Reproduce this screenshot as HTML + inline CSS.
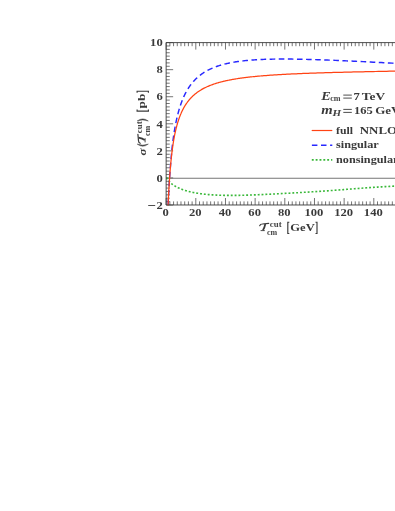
<!DOCTYPE html>
<html><head><meta charset="utf-8"><title>plot</title>
<style>html,body{margin:0;padding:0;background:#fff;}body{width:395px;height:511px;position:relative;overflow:hidden;font-family:"Liberation Serif",serif;}</style>
</head><body>
<svg width="395" height="511" viewBox="0 0 395 511" style="position:absolute;left:0;top:0;will-change:transform">
<rect x="0" y="0" width="395" height="511" fill="#fff"/>
<defs><clipPath id="c"><rect x="166.15" y="42.6" width="233.85" height="162.896"/></clipPath></defs>
<path d="M166.15,205.00V198.00M166.15,42.60V49.60M169.86,205.00V201.40M169.86,42.60V46.20M173.57,205.00V201.40M173.57,42.60V46.20M177.27,205.00V201.40M177.27,42.60V46.20M180.98,205.00V201.40M180.98,42.60V46.20M184.69,205.00V201.40M184.69,42.60V46.20M188.40,205.00V201.40M188.40,42.60V46.20M192.11,205.00V201.40M192.11,42.60V46.20M195.81,205.00V198.00M195.81,42.60V49.60M199.52,205.00V201.40M199.52,42.60V46.20M203.23,205.00V201.40M203.23,42.60V46.20M206.94,205.00V201.40M206.94,42.60V46.20M210.65,205.00V201.40M210.65,42.60V46.20M214.35,205.00V201.40M214.35,42.60V46.20M218.06,205.00V201.40M218.06,42.60V46.20M221.77,205.00V201.40M221.77,42.60V46.20M225.48,205.00V198.00M225.48,42.60V49.60M229.19,205.00V201.40M229.19,42.60V46.20M232.89,205.00V201.40M232.89,42.60V46.20M236.60,205.00V201.40M236.60,42.60V46.20M240.31,205.00V201.40M240.31,42.60V46.20M244.02,205.00V201.40M244.02,42.60V46.20M247.73,205.00V201.40M247.73,42.60V46.20M251.43,205.00V201.40M251.43,42.60V46.20M255.14,205.00V198.00M255.14,42.60V49.60M258.85,205.00V201.40M258.85,42.60V46.20M262.56,205.00V201.40M262.56,42.60V46.20M266.27,205.00V201.40M266.27,42.60V46.20M269.97,205.00V201.40M269.97,42.60V46.20M273.68,205.00V201.40M273.68,42.60V46.20M277.39,205.00V201.40M277.39,42.60V46.20M281.10,205.00V201.40M281.10,42.60V46.20M284.81,205.00V198.00M284.81,42.60V49.60M288.51,205.00V201.40M288.51,42.60V46.20M292.22,205.00V201.40M292.22,42.60V46.20M295.93,205.00V201.40M295.93,42.60V46.20M299.64,205.00V201.40M299.64,42.60V46.20M303.35,205.00V201.40M303.35,42.60V46.20M307.05,205.00V201.40M307.05,42.60V46.20M310.76,205.00V201.40M310.76,42.60V46.20M314.47,205.00V198.00M314.47,42.60V49.60M318.18,205.00V201.40M318.18,42.60V46.20M321.89,205.00V201.40M321.89,42.60V46.20M325.59,205.00V201.40M325.59,42.60V46.20M329.30,205.00V201.40M329.30,42.60V46.20M333.01,205.00V201.40M333.01,42.60V46.20M336.72,205.00V201.40M336.72,42.60V46.20M340.43,205.00V201.40M340.43,42.60V46.20M344.13,205.00V198.00M344.13,42.60V49.60M347.84,205.00V201.40M347.84,42.60V46.20M351.55,205.00V201.40M351.55,42.60V46.20M355.26,205.00V201.40M355.26,42.60V46.20M358.97,205.00V201.40M358.97,42.60V46.20M362.67,205.00V201.40M362.67,42.60V46.20M366.38,205.00V201.40M366.38,42.60V46.20M370.09,205.00V201.40M370.09,42.60V46.20M373.80,205.00V198.00M373.80,42.60V49.60M377.51,205.00V201.40M377.51,42.60V46.20M381.21,205.00V201.40M381.21,42.60V46.20M384.92,205.00V201.40M384.92,42.60V46.20M388.63,205.00V201.40M388.63,42.60V46.20M392.34,205.00V201.40M392.34,42.60V46.20M396.05,205.00V201.40M396.05,42.60V46.20M166.15,205.00H173.15M166.15,201.61H169.75M166.15,198.23H169.75M166.15,194.85H169.75M166.15,191.46H169.75M166.15,188.08H169.75M166.15,184.70H169.75M166.15,181.31H169.75M166.15,177.93H173.15M166.15,174.55H169.75M166.15,171.16H169.75M166.15,167.78H169.75M166.15,164.40H169.75M166.15,161.01H169.75M166.15,157.63H169.75M166.15,154.25H169.75M166.15,150.86H173.15M166.15,147.48H169.75M166.15,144.10H169.75M166.15,140.71H169.75M166.15,137.33H169.75M166.15,133.95H169.75M166.15,130.56H169.75M166.15,127.18H169.75M166.15,123.80H173.15M166.15,120.41H169.75M166.15,117.03H169.75M166.15,113.65H169.75M166.15,110.26H169.75M166.15,106.88H169.75M166.15,103.50H169.75M166.15,100.12H169.75M166.15,96.73H173.15M166.15,93.35H169.75M166.15,89.97H169.75M166.15,86.58H169.75M166.15,83.20H169.75M166.15,79.82H169.75M166.15,76.43H169.75M166.15,73.05H169.75M166.15,69.67H173.15M166.15,66.28H169.75M166.15,62.90H169.75M166.15,59.52H169.75M166.15,56.13H169.75M166.15,52.75H169.75M166.15,49.37H169.75M166.15,45.98H169.75M166.15,42.60H173.15" stroke="#3a3a3a" stroke-width="0.7" fill="none"/>
<path d="M166.15,178.25H397" stroke="#6e6e6e" stroke-width="0.95" fill="none"/>
<g clip-path="url(#c)" fill="none">
<path d="M166.50,177.80 L166.51,177.81 L166.52,177.81 L166.52,177.81 L166.52,177.81 L166.52,177.81 L166.52,177.81 L166.52,177.81 L166.52,177.81 L166.52,177.81 L166.52,177.81 L166.52,177.82 L166.52,177.82 L166.52,177.82 L166.52,177.82 L166.52,177.82 L166.52,177.82 L166.52,177.82 L166.52,177.82 L166.52,177.82 L166.52,177.82 L166.52,177.82 L166.52,177.82 L166.52,177.82 L166.52,177.82 L166.52,177.82 L166.52,177.83 L166.52,177.83 L166.53,177.83 L166.53,177.83 L166.53,177.83 L166.53,177.83 L166.53,177.83 L166.53,177.83 L166.53,177.83 L166.53,177.83 L166.53,177.83 L166.53,177.84 L166.53,177.84 L166.53,177.84 L166.53,177.84 L166.53,177.84 L166.53,177.84 L166.53,177.84 L166.53,177.84 L166.53,177.84 L166.54,177.85 L166.54,177.85 L166.54,177.85 L166.54,177.85 L166.54,177.85 L166.54,177.85 L166.54,177.85 L166.54,177.86 L166.54,177.86 L166.54,177.86 L166.54,177.86 L166.54,177.86 L166.54,177.86 L166.55,177.86 L166.55,177.87 L166.55,177.87 L166.55,177.87 L166.55,177.87 L166.55,177.87 L166.55,177.88 L166.55,177.88 L166.55,177.88 L166.55,177.88 L166.56,177.88 L166.56,177.89 L166.56,177.89 L166.56,177.89 L166.56,177.89 L166.56,177.89 L166.56,177.90 L166.56,177.90 L166.56,177.90 L166.57,177.90 L166.57,177.91 L166.57,177.91 L166.57,177.91 L166.57,177.91 L166.57,177.92 L166.57,177.92 L166.58,177.92 L166.58,177.93 L166.58,177.93 L166.58,177.93 L166.58,177.93 L166.58,177.94 L166.58,177.94 L166.59,177.94 L166.59,177.95 L166.59,177.95 L166.59,177.95 L166.59,177.96 L166.60,177.96 L166.60,177.96 L166.60,177.97 L166.60,177.97 L166.60,177.98 L166.61,177.98 L166.61,177.98 L166.61,177.99 L166.61,177.99 L166.61,178.00 L166.62,178.00 L166.62,178.00 L166.62,178.01 L166.62,178.01 L166.63,178.02 L166.63,178.02 L166.63,178.03 L166.63,178.03 L166.64,178.04 L166.64,178.04 L166.64,178.05 L166.64,178.05 L166.65,178.06 L166.65,178.06 L166.65,178.07 L166.65,178.08 L166.66,178.08 L166.66,178.09 L166.66,178.09 L166.67,178.10 L166.67,178.11 L166.67,178.11 L166.68,178.12 L166.68,178.12 L166.68,178.13 L166.69,178.14 L166.69,178.15 L166.70,178.15 L166.70,178.16 L166.70,178.17 L166.71,178.17 L166.71,178.18 L166.72,178.19 L166.72,178.20 L166.72,178.21 L166.73,178.21 L166.73,178.22 L166.74,178.23 L166.74,178.24 L166.75,178.25 L166.75,178.26 L166.76,178.27 L166.76,178.27 L166.77,178.28 L166.77,178.29 L166.78,178.30 L166.78,178.31 L166.79,178.32 L166.79,178.33 L166.80,178.34 L166.81,178.35 L166.81,178.36 L166.82,178.38 L166.82,178.39 L166.83,178.40 L166.84,178.41 L166.84,178.42 L166.85,178.43 L166.86,178.44 L166.86,178.46 L166.87,178.47 L166.88,178.48 L166.89,178.49 L166.89,178.51 L166.90,178.52 L166.91,178.53 L166.92,178.55 L166.92,178.56 L166.93,178.58 L166.94,178.59 L166.95,178.61 L166.96,178.62 L166.97,178.64 L166.98,178.65 L166.99,178.67 L167.00,178.68 L167.01,178.70 L167.02,178.71 L167.03,178.73 L167.04,178.75 L167.05,178.77 L167.06,178.78 L167.07,178.80 L167.08,178.82 L167.09,178.84 L167.10,178.86 L167.11,178.87 L167.13,178.89 L167.14,178.91 L167.15,178.93 L167.16,178.95 L167.18,178.97 L167.19,178.99 L167.20,179.02 L167.22,179.04 L167.23,179.06 L167.25,179.08 L167.26,179.10 L167.27,179.13 L167.29,179.15 L167.31,179.17 L167.32,179.20 L167.34,179.22 L167.35,179.24 L167.37,179.27 L167.39,179.29 L167.41,179.32 L167.42,179.35 L167.44,179.37 L167.46,179.40 L167.48,179.43 L167.50,179.45 L167.52,179.48 L167.54,179.51 L167.56,179.54 L167.58,179.57 L167.60,179.60 L167.62,179.63 L167.64,179.66 L167.66,179.69 L167.69,179.72 L167.71,179.75 L167.73,179.79 L167.76,179.82 L167.78,179.85 L167.81,179.89 L167.83,179.92 L167.86,179.95 L167.89,179.99 L167.91,180.02 L167.94,180.06 L167.97,180.10 L168.00,180.13 L168.03,180.17 L168.06,180.21 L168.09,180.25 L168.12,180.29 L168.15,180.33 L168.18,180.37 L168.22,180.41 L168.25,180.45 L168.28,180.49 L168.32,180.53 L168.36,180.58 L168.39,180.62 L168.43,180.67 L168.47,180.71 L168.50,180.76 L168.54,180.80 L168.58,180.85 L168.63,180.89 L168.67,180.94 L168.71,180.99 L168.75,181.04 L168.80,181.09 L168.84,181.14 L168.89,181.19 L168.93,181.24 L168.98,181.29 L169.03,181.35 L169.08,181.40 L169.13,181.45 L169.18,181.51 L169.23,181.56 L169.29,181.62 L169.34,181.68 L169.40,181.73 L169.46,181.79 L169.51,181.85 L169.57,181.91 L169.63,181.97 L169.69,182.03 L169.76,182.09 L169.82,182.15 L169.89,182.22 L169.95,182.28 L170.02,182.34 L170.09,182.41 L170.16,182.47 L170.23,182.54 L170.30,182.61 L170.38,182.68 L170.45,182.74 L170.53,182.81 L170.61,182.88 L170.69,182.95 L170.77,183.03 L170.86,183.10 L170.94,183.17 L171.03,183.25 L171.12,183.32 L171.21,183.40 L171.30,183.47 L171.39,183.55 L171.49,183.63 L171.59,183.70 L171.69,183.78 L171.79,183.86 L171.89,183.94 L172.00,184.02 L172.11,184.11 L172.22,184.19 L172.33,184.27 L172.44,184.36 L172.56,184.44 L172.68,184.53 L172.80,184.62 L172.92,184.70 L173.05,184.79 L173.18,184.88 L173.31,184.97 L173.44,185.06 L173.58,185.15 L173.71,185.24 L173.86,185.33 L174.00,185.43 L174.15,185.52 L174.30,185.62 L174.45,185.71 L174.60,185.81 L174.76,185.90 L174.92,186.00 L175.09,186.10 L175.26,186.20 L175.43,186.30 L175.60,186.40 L175.78,186.50 L175.96,186.60 L176.15,186.70 L176.34,186.81 L176.53,186.91 L176.73,187.01 L176.93,187.12 L177.13,187.22 L177.34,187.33 L177.55,187.43 L177.77,187.54 L177.99,187.65 L178.22,187.75 L178.45,187.86 L178.68,187.97 L178.92,188.08 L179.16,188.19 L179.41,188.30 L179.66,188.41 L179.92,188.52 L180.18,188.63 L180.45,188.74 L180.72,188.85 L181.00,188.97 L181.29,189.08 L181.58,189.19 L181.87,189.30 L182.17,189.42 L182.48,189.53 L182.79,189.64 L183.11,189.76 L183.44,189.87 L183.77,189.98 L184.11,190.10 L184.45,190.21 L184.80,190.32 L185.16,190.44 L185.53,190.55 L185.90,190.66 L186.28,190.78 L186.67,190.89 L187.06,191.00 L187.47,191.11 L187.88,191.22 L188.30,191.34 L188.72,191.45 L189.16,191.56 L189.60,191.67 L190.06,191.78 L190.52,191.89 L190.99,192.00 L191.47,192.10 L191.96,192.21 L192.45,192.32 L192.96,192.42 L193.48,192.53 L194.01,192.63 L194.55,192.73 L195.10,192.84 L195.66,192.94 L196.23,193.04 L196.81,193.14 L197.41,193.23 L198.01,193.33 L198.63,193.43 L199.26,193.52 L199.90,193.61 L200.55,193.70 L201.22,193.79 L201.90,193.88 L202.59,193.96 L203.30,194.05 L204.02,194.13 L204.76,194.21 L205.51,194.29 L206.27,194.36 L207.05,194.44 L207.84,194.51 L208.65,194.58 L209.48,194.65 L210.32,194.71 L211.18,194.77 L212.06,194.83 L212.95,194.89 L213.86,194.95 L214.79,195.00 L215.73,195.05 L216.70,195.09 L217.68,195.14 L218.68,195.18 L219.70,195.22 L220.75,195.25 L221.81,195.28 L222.89,195.31 L224.00,195.33 L225.12,195.35 L226.27,195.37 L227.44,195.38 L228.64,195.39 L229.85,195.40 L231.09,195.40 L232.36,195.40 L233.65,195.40 L234.97,195.39 L236.31,195.37 L237.67,195.36 L239.07,195.33 L240.49,195.31 L241.94,195.28 L243.42,195.24 L244.92,195.20 L246.46,195.16 L248.03,195.11 L249.62,195.06 L251.25,195.01 L252.91,194.94 L254.60,194.88 L256.33,194.81 L258.09,194.74 L259.88,194.66 L261.71,194.58 L263.58,194.49 L265.48,194.40 L267.42,194.31 L269.40,194.21 L271.41,194.11 L273.47,194.01 L275.56,193.90 L277.70,193.79 L279.88,193.67 L282.10,193.55 L284.36,193.43 L286.67,193.31 L289.02,193.18 L291.42,193.05 L293.87,192.91 L296.37,192.77 L298.91,192.63 L301.50,192.48 L304.15,192.32 L306.85,192.16 L309.59,192.00 L312.40,191.82 L315.26,191.64 L318.17,191.45 L321.14,191.25 L324.17,191.05 L327.26,190.83 L330.41,190.60 L333.62,190.36 L336.89,190.11 L340.23,189.85 L343.63,189.59 L347.10,189.32 L350.64,189.04 L354.25,188.76 L357.93,188.48 L361.67,188.19 L365.50,187.91 L369.40,187.64 L373.37,187.36 L377.42,187.10 L381.56,186.84 L385.77,186.58 L390.06,186.34 L394.44,186.10 L398.91,185.87 L403.46,185.64" stroke="#3ab83a" stroke-width="1.6" stroke-dasharray="1.9 1.95"/>
<path d="M167.29,209.94 L167.30,210.21 L167.31,210.47 L167.31,210.72 L167.32,210.96 L167.32,211.18 L167.33,211.40 L167.34,211.61 L167.34,211.81 L167.35,212.00 L167.35,212.18 L167.36,212.35 L167.37,212.51 L167.37,212.66 L167.38,212.80 L167.39,212.94 L167.39,213.06 L167.40,213.17 L167.41,213.28 L167.41,213.38 L167.42,213.46 L167.43,213.54 L167.44,213.61 L167.44,213.68 L167.45,213.73 L167.46,213.77 L167.47,213.81 L167.47,213.84 L167.48,213.86 L167.49,213.87 L167.50,213.88 L167.51,213.87 L167.51,213.86 L167.52,213.84 L167.53,213.81 L167.54,213.78 L167.55,213.73 L167.56,213.68 L167.57,213.62 L167.58,213.56 L167.58,213.49 L167.59,213.41 L167.60,213.32 L167.61,213.23 L167.62,213.12 L167.63,213.02 L167.64,212.90 L167.65,212.78 L167.66,212.65 L167.67,212.51 L167.68,212.37 L167.69,212.22 L167.70,212.07 L167.72,211.91 L167.73,211.74 L167.74,211.56 L167.75,211.38 L167.76,211.20 L167.77,211.00 L167.78,210.80 L167.80,210.60 L167.81,210.39 L167.82,210.17 L167.83,209.95 L167.84,209.72 L167.86,209.49 L167.87,209.25 L167.88,209.00 L167.90,208.75 L167.91,208.50 L167.92,208.24 L167.94,207.97 L167.95,207.70 L167.96,207.42 L167.98,207.14 L167.99,206.86 L168.01,206.57 L168.02,206.27 L168.04,205.97 L168.05,205.66 L168.07,205.35 L168.08,205.04 L168.10,204.72 L168.11,204.39 L168.13,204.06 L168.14,203.73 L168.16,203.39 L168.18,203.05 L168.19,202.70 L168.21,202.35 L168.23,202.00 L168.25,201.64 L168.26,201.28 L168.28,200.91 L168.30,200.54 L168.32,200.17 L168.34,199.79 L168.36,199.41 L168.37,199.02 L168.39,198.63 L168.41,198.24 L168.43,197.85 L168.45,197.45 L168.47,197.04 L168.49,196.64 L168.52,196.23 L168.54,195.81 L168.56,195.40 L168.58,194.98 L168.60,194.56 L168.62,194.13 L168.65,193.70 L168.67,193.27 L168.69,192.84 L168.71,192.40 L168.74,191.96 L168.76,191.52 L168.79,191.08 L168.81,190.63 L168.84,190.18 L168.86,189.73 L168.89,189.27 L168.91,188.81 L168.94,188.35 L168.97,187.89 L168.99,187.43 L169.02,186.96 L169.05,186.49 L169.07,186.02 L169.10,185.55 L169.13,185.07 L169.16,184.59 L169.19,184.11 L169.22,183.63 L169.25,183.15 L169.28,182.67 L169.31,182.18 L169.34,181.69 L169.37,181.20 L169.40,180.70 L169.44,180.21 L169.47,179.71 L169.50,179.21 L169.54,178.71 L169.57,178.21 L169.60,177.70 L169.64,177.19 L169.68,176.68 L169.71,176.17 L169.75,175.65 L169.78,175.13 L169.82,174.61 L169.86,174.09 L169.90,173.56 L169.94,173.04 L169.97,172.50 L170.01,171.97 L170.05,171.43 L170.09,170.89 L170.14,170.35 L170.18,169.81 L170.22,169.26 L170.26,168.70 L170.31,168.15 L170.35,167.59 L170.39,167.03 L170.44,166.46 L170.48,165.89 L170.53,165.32 L170.58,164.75 L170.62,164.17 L170.67,163.58 L170.72,163.00 L170.77,162.40 L170.82,161.81 L170.87,161.21 L170.92,160.61 L170.97,160.00 L171.02,159.40 L171.08,158.78 L171.13,158.17 L171.18,157.55 L171.24,156.93 L171.29,156.30 L171.35,155.67 L171.41,155.04 L171.46,154.41 L171.52,153.78 L171.58,153.14 L171.64,152.50 L171.70,151.87 L171.76,151.23 L171.83,150.59 L171.89,149.95 L171.95,149.32 L172.02,148.68 L172.08,148.05 L172.15,147.43 L172.22,146.80 L172.28,146.19 L172.35,145.58 L172.42,144.98 L172.49,144.39 L172.57,143.80 L172.64,143.21 L172.71,142.62 L172.79,142.04 L172.86,141.45 L172.94,140.86 L173.01,140.27 L173.09,139.69 L173.17,139.10 L173.25,138.52 L173.33,137.93 L173.41,137.35 L173.50,136.76 L173.58,136.18 L173.67,135.60 L173.75,135.01 L173.84,134.43 L173.93,133.85 L174.02,133.27 L174.11,132.69 L174.20,132.11 L174.29,131.53 L174.39,130.95 L174.48,130.38 L174.58,129.80 L174.68,129.23 L174.78,128.65 L174.88,128.08 L174.98,127.51 L175.08,126.94 L175.19,126.37 L175.29,125.80 L175.40,125.23 L175.51,124.66 L175.62,124.10 L175.73,123.53 L175.84,122.97 L175.95,122.41 L176.07,121.85 L176.19,121.29 L176.30,120.73 L176.42,120.17 L176.55,119.62 L176.67,119.06 L176.79,118.51 L176.92,117.96 L177.05,117.41 L177.18,116.86 L177.31,116.31 L177.44,115.77 L177.57,115.22 L177.71,114.68 L177.85,114.14 L177.99,113.60 L178.13,113.06 L178.27,112.53 L178.41,111.99 L178.56,111.46 L178.71,110.93 L178.86,110.40 L179.01,109.88 L179.16,109.35 L179.32,108.83 L179.48,108.31 L179.64,107.79 L179.80,107.27 L179.96,106.75 L180.13,106.24 L180.30,105.73 L180.47,105.22 L180.64,104.71 L180.82,104.20 L180.99,103.70 L181.17,103.20 L181.35,102.70 L181.54,102.20 L181.72,101.70 L181.91,101.21 L182.10,100.72 L182.29,100.23 L182.49,99.74 L182.69,99.26 L182.89,98.78 L183.09,98.30 L183.30,97.82 L183.51,97.34 L183.72,96.87 L183.93,96.40 L184.15,95.93 L184.37,95.47 L184.59,95.00 L184.81,94.54 L185.04,94.08 L185.27,93.63 L185.50,93.17 L185.74,92.72 L185.98,92.27 L186.22,91.82 L186.47,91.38 L186.71,90.94 L186.97,90.50 L187.22,90.06 L187.48,89.63 L187.74,89.20 L188.00,88.77 L188.27,88.34 L188.54,87.92 L188.82,87.50 L189.10,87.08 L189.38,86.67 L189.66,86.26 L189.95,85.85 L190.25,85.44 L190.54,85.04 L190.84,84.63 L191.15,84.24 L191.45,83.84 L191.76,83.45 L192.08,83.06 L192.40,82.67 L192.72,82.28 L193.05,81.90 L193.38,81.52 L193.72,81.15 L194.06,80.77 L194.40,80.40 L194.75,80.04 L195.11,79.67 L195.46,79.31 L195.83,78.95 L196.19,78.60 L196.56,78.25 L196.94,77.90 L197.32,77.55 L197.71,77.21 L198.10,76.87 L198.49,76.53 L198.89,76.19 L199.30,75.86 L199.71,75.53 L200.13,75.21 L200.55,74.89 L200.98,74.57 L201.41,74.25 L201.85,73.94 L202.29,73.63 L202.74,73.32 L203.19,73.02 L203.65,72.72 L204.12,72.42 L204.59,72.13 L205.07,71.84 L205.55,71.55 L206.04,71.26 L206.54,70.98 L207.04,70.71 L207.55,70.43 L208.06,70.16 L208.59,69.89 L209.11,69.62 L209.65,69.36 L210.19,69.10 L210.74,68.85 L211.30,68.59 L211.86,68.35 L212.43,68.10 L213.01,67.86 L213.59,67.62 L214.18,67.38 L214.78,67.15 L215.39,66.92 L216.00,66.69 L216.63,66.47 L217.26,66.25 L217.90,66.03 L218.54,65.82 L219.20,65.61 L219.86,65.40 L220.53,65.20 L221.21,65.00 L221.90,64.80 L222.60,64.61 L223.30,64.42 L224.02,64.23 L224.74,64.05 L225.47,63.87 L226.22,63.69 L226.97,63.52 L227.73,63.35 L228.50,63.18 L229.28,63.02 L230.07,62.86 L230.87,62.70 L231.68,62.55 L232.50,62.39 L233.33,62.25 L234.18,62.10 L235.03,61.96 L235.89,61.83 L236.77,61.69 L237.65,61.56 L238.55,61.44 L239.46,61.31 L240.38,61.19 L241.31,61.07 L242.25,60.96 L243.20,60.85 L244.17,60.74 L245.15,60.64 L246.14,60.54 L247.15,60.44 L248.16,60.35 L249.19,60.26 L250.23,60.17 L251.29,60.08 L252.36,60.00 L253.44,59.93 L254.54,59.85 L255.65,59.78 L256.77,59.71 L257.91,59.65 L259.07,59.59 L260.23,59.53 L261.42,59.48 L262.61,59.42 L263.83,59.38 L265.05,59.33 L266.30,59.29 L267.56,59.25 L268.83,59.22 L270.12,59.18 L271.43,59.16 L272.76,59.13 L274.10,59.11 L275.45,59.09 L276.83,59.07 L278.22,59.06 L279.63,59.05 L281.06,59.04 L282.51,59.04 L283.97,59.04 L285.46,59.04 L286.96,59.05 L288.48,59.06 L290.02,59.07 L291.58,59.09 L293.16,59.11 L294.76,59.13 L296.38,59.15 L298.02,59.18 L299.68,59.21 L301.36,59.25 L303.06,59.28 L304.79,59.32 L306.53,59.37 L308.30,59.41 L310.09,59.46 L311.91,59.52 L313.75,59.57 L315.61,59.63 L317.49,59.69 L319.40,59.76 L321.33,59.82 L323.28,59.89 L325.27,59.97 L327.27,60.04 L329.30,60.12 L331.36,60.20 L333.44,60.29 L335.55,60.37 L337.69,60.47 L339.85,60.56 L342.04,60.65 L344.26,60.75 L346.51,60.86 L348.78,60.96 L351.09,61.07 L353.42,61.18 L355.78,61.29 L358.17,61.41 L360.60,61.52 L363.05,61.65 L365.54,61.77 L368.05,61.90 L370.60,62.02 L373.18,62.16 L375.79,62.29 L378.44,62.43 L381.12,62.57 L383.83,62.71 L386.58,62.85 L389.36,63.00 L392.18,63.15 L395.03,63.30 L397.92,63.46 L400.85,63.62 L403.81,63.78" stroke="#2828ff" stroke-width="1.45" stroke-dasharray="5.6 3.5" stroke-dashoffset="-4.2"/>
<path d="M167.29,209.94 L167.30,210.21 L167.31,210.47 L167.31,210.72 L167.32,210.96 L167.32,211.18 L167.33,211.40 L167.34,211.61 L167.34,211.81 L167.35,212.00 L167.35,212.18 L167.36,212.35 L167.37,212.51 L167.37,212.66 L167.38,212.80 L167.39,212.94 L167.39,213.06 L167.40,213.17 L167.41,213.28 L167.41,213.38 L167.42,213.46 L167.43,213.54 L167.44,213.61 L167.44,213.68 L167.45,213.73 L167.46,213.77 L167.47,213.81 L167.47,213.84 L167.48,213.86 L167.49,213.87 L167.50,213.88 L167.51,213.87 L167.51,213.86 L167.52,213.84 L167.53,213.81 L167.54,213.78 L167.55,213.73 L167.56,213.68 L167.57,213.62 L167.58,213.56 L167.58,213.49 L167.59,213.41 L167.60,213.32 L167.61,213.23 L167.62,213.12 L167.63,213.02 L167.64,212.90 L167.65,212.78 L167.66,212.65 L167.67,212.51 L167.68,212.37 L167.69,212.22 L167.70,212.07 L167.72,211.91 L167.73,211.74 L167.74,211.56 L167.75,211.38 L167.76,211.20 L167.77,211.00 L167.78,210.80 L167.80,210.60 L167.81,210.39 L167.82,210.17 L167.83,209.95 L167.84,209.72 L167.86,209.49 L167.87,209.25 L167.88,209.00 L167.90,208.75 L167.91,208.50 L167.92,208.24 L167.94,207.97 L167.95,207.70 L167.96,207.42 L167.98,207.14 L167.99,206.86 L168.01,206.57 L168.02,206.27 L168.04,205.97 L168.05,205.66 L168.07,205.35 L168.08,205.04 L168.10,204.72 L168.11,204.39 L168.13,204.06 L168.14,203.73 L168.16,203.39 L168.18,203.05 L168.19,202.70 L168.21,202.35 L168.23,202.00 L168.25,201.64 L168.26,201.28 L168.28,200.91 L168.30,200.54 L168.32,200.17 L168.34,199.79 L168.36,199.41 L168.37,199.02 L168.39,198.63 L168.41,198.24 L168.43,197.85 L168.45,197.45 L168.47,197.04 L168.49,196.64 L168.52,196.23 L168.54,195.81 L168.56,195.40 L168.58,194.98 L168.60,194.56 L168.62,194.13 L168.65,193.70 L168.67,193.27 L168.69,192.84 L168.71,192.40 L168.74,191.96 L168.76,191.52 L168.79,191.08 L168.81,190.63 L168.84,190.18 L168.86,189.73 L168.89,189.27 L168.91,188.81 L168.94,188.35 L168.97,187.89 L168.99,187.43 L169.02,186.96 L169.05,186.49 L169.07,186.02 L169.10,185.55 L169.13,185.07 L169.16,184.59 L169.19,184.11 L169.22,183.63 L169.25,183.15 L169.28,182.67 L169.31,182.18 L169.34,181.69 L169.37,181.20 L169.40,180.71 L169.44,180.22 L169.47,179.72 L169.50,179.22 L169.54,178.73 L169.57,178.23 L169.60,177.73 L169.64,177.22 L169.68,176.72 L169.71,176.22 L169.75,175.71 L169.78,175.20 L169.82,174.69 L169.86,174.19 L169.90,173.68 L169.94,173.16 L169.97,172.65 L170.01,172.14 L170.05,171.62 L170.09,171.11 L170.14,170.59 L170.18,170.08 L170.22,169.56 L170.26,169.04 L170.31,168.52 L170.35,168.00 L170.39,167.48 L170.44,166.96 L170.48,166.44 L170.53,165.92 L170.58,165.40 L170.62,164.88 L170.67,164.35 L170.72,163.83 L170.77,163.31 L170.82,162.78 L170.87,162.26 L170.92,161.73 L170.97,161.21 L171.02,160.68 L171.08,160.16 L171.13,159.64 L171.18,159.11 L171.24,158.59 L171.29,158.06 L171.35,157.54 L171.41,157.01 L171.46,156.49 L171.52,155.96 L171.58,155.44 L171.64,154.92 L171.70,154.39 L171.76,153.87 L171.83,153.35 L171.89,152.82 L171.95,152.30 L172.02,151.78 L172.08,151.26 L172.15,150.74 L172.22,150.22 L172.28,149.70 L172.35,149.18 L172.42,148.66 L172.49,148.14 L172.57,147.62 L172.64,147.10 L172.71,146.59 L172.79,146.07 L172.86,145.56 L172.94,145.04 L173.01,144.53 L173.09,144.02 L173.17,143.51 L173.25,142.99 L173.33,142.48 L173.41,141.98 L173.50,141.47 L173.58,140.96 L173.67,140.45 L173.75,139.95 L173.84,139.45 L173.93,138.94 L174.02,138.44 L174.11,137.94 L174.20,137.44 L174.29,136.94 L174.39,136.44 L174.48,135.95 L174.58,135.45 L174.68,134.96 L174.78,134.47 L174.88,133.98 L174.98,133.49 L175.08,133.00 L175.19,132.51 L175.29,132.03 L175.40,131.54 L175.51,131.06 L175.62,130.58 L175.73,130.10 L175.84,129.62 L175.95,129.14 L176.07,128.67 L176.19,128.19 L176.30,127.72 L176.42,127.25 L176.55,126.78 L176.67,126.31 L176.79,125.85 L176.92,125.38 L177.05,124.92 L177.18,124.46 L177.31,124.00 L177.44,123.54 L177.57,123.08 L177.71,122.63 L177.85,122.18 L177.99,121.73 L178.13,121.28 L178.27,120.83 L178.41,120.38 L178.56,119.94 L178.71,119.50 L178.86,119.06 L179.01,118.62 L179.16,118.18 L179.32,117.75 L179.48,117.32 L179.64,116.89 L179.80,116.46 L179.96,116.03 L180.13,115.61 L180.30,115.18 L180.47,114.76 L180.64,114.34 L180.82,113.93 L180.99,113.51 L181.17,113.10 L181.35,112.69 L181.54,112.28 L181.72,111.87 L181.91,111.47 L182.10,111.07 L182.29,110.67 L182.49,110.27 L182.69,109.87 L182.89,109.48 L183.09,109.09 L183.30,108.70 L183.51,108.31 L183.72,107.92 L183.93,107.54 L184.15,107.16 L184.37,106.78 L184.59,106.40 L184.81,106.03 L185.04,105.66 L185.27,105.29 L185.50,104.92 L185.74,104.55 L185.98,104.19 L186.22,103.83 L186.47,103.47 L186.71,103.11 L186.97,102.76 L187.22,102.40 L187.48,102.05 L187.74,101.70 L188.00,101.36 L188.27,101.02 L188.54,100.67 L188.82,100.34 L189.10,100.00 L189.38,99.66 L189.66,99.33 L189.95,99.00 L190.25,98.67 L190.54,98.35 L190.84,98.03 L191.15,97.71 L191.45,97.39 L191.76,97.07 L192.08,96.76 L192.40,96.45 L192.72,96.14 L193.05,95.83 L193.38,95.53 L193.72,95.22 L194.06,94.92 L194.40,94.63 L194.75,94.33 L195.11,94.04 L195.46,93.75 L195.83,93.46 L196.19,93.17 L196.56,92.89 L196.94,92.61 L197.32,92.33 L197.71,92.05 L198.10,91.78 L198.49,91.50 L198.89,91.23 L199.30,90.97 L199.71,90.70 L200.13,90.44 L200.55,90.18 L200.98,89.92 L201.41,89.66 L201.85,89.41 L202.29,89.16 L202.74,88.91 L203.19,88.66 L203.65,88.41 L204.12,88.17 L204.59,87.93 L205.07,87.69 L205.55,87.46 L206.04,87.22 L206.54,86.99 L207.04,86.76 L207.55,86.54 L208.06,86.31 L208.59,86.09 L209.11,85.87 L209.65,85.65 L210.19,85.43 L210.74,85.22 L211.30,85.01 L211.86,84.80 L212.43,84.59 L213.01,84.38 L213.59,84.18 L214.18,83.98 L214.78,83.78 L215.39,83.58 L216.00,83.39 L216.63,83.20 L217.26,83.01 L217.90,82.82 L218.54,82.63 L219.20,82.45 L219.86,82.27 L220.53,82.09 L221.21,81.91 L221.90,81.73 L222.60,81.56 L223.30,81.38 L224.02,81.21 L224.74,81.05 L225.47,80.88 L226.22,80.72 L226.97,80.55 L227.73,80.39 L228.50,80.24 L229.28,80.08 L230.07,79.92 L230.87,79.77 L231.68,79.62 L232.50,79.47 L233.33,79.32 L234.18,79.18 L235.03,79.04 L235.89,78.89 L236.77,78.75 L237.65,78.62 L238.55,78.48 L239.46,78.34 L240.38,78.21 L241.31,78.08 L242.25,77.95 L243.20,77.82 L244.17,77.70 L245.15,77.57 L246.14,77.45 L247.15,77.33 L248.16,77.21 L249.19,77.09 L250.23,76.98 L251.29,76.86 L252.36,76.75 L253.44,76.64 L254.54,76.53 L255.65,76.42 L256.77,76.31 L257.91,76.21 L259.07,76.10 L260.23,76.00 L261.42,75.90 L262.61,75.80 L263.83,75.70 L265.05,75.60 L266.30,75.51 L267.56,75.41 L268.83,75.32 L270.12,75.23 L271.43,75.14 L272.76,75.05 L274.10,74.96 L275.45,74.87 L276.83,74.79 L278.22,74.70 L279.63,74.62 L281.06,74.54 L282.51,74.45 L283.97,74.37 L285.46,74.30 L286.96,74.22 L288.48,74.14 L290.02,74.07 L291.58,73.99 L293.16,73.92 L294.76,73.84 L296.38,73.77 L298.02,73.70 L299.68,73.63 L301.36,73.56 L303.06,73.49 L304.79,73.43 L306.53,73.36 L308.30,73.29 L310.09,73.23 L311.91,73.16 L313.75,73.10 L315.61,73.04 L317.49,72.97 L319.40,72.91 L321.33,72.85 L323.28,72.79 L325.27,72.73 L327.27,72.67 L329.30,72.61 L331.36,72.55 L333.44,72.49 L335.55,72.44 L337.69,72.38 L339.85,72.32 L342.04,72.27 L344.26,72.21 L346.51,72.15 L348.78,72.10 L351.09,72.04 L353.42,71.99 L355.78,71.93 L358.17,71.88 L360.60,71.82 L363.05,71.77 L365.54,71.71 L368.05,71.66 L370.60,71.61 L373.18,71.55 L375.79,71.50 L378.44,71.44 L381.12,71.39 L383.83,71.34 L386.58,71.28 L389.36,71.23 L392.18,71.17 L395.03,71.12 L397.92,71.06 L400.85,71.01 L403.81,70.95" stroke="#ff4314" stroke-width="1.25"/>
</g>
<path d="M397,42.6H166.15V204.99599999999998H397" stroke="#3a3a3a" stroke-width="0.9" fill="none"/>
<path d="M311.7,130.5H332.3" stroke="#ff4314" stroke-width="1.2"/>
<path d="M311.9,145.25H332.3" stroke="#2828ff" stroke-width="1.45" stroke-dasharray="5.5 3.6"/>
<path d="M311.8,159.85H332.3" stroke="#3ab83a" stroke-width="1.6" stroke-dasharray="1.9 1.95"/>
<g style="filter:grayscale(1)">
<text x="162.50" y="215.90" font-family="Liberation Serif, serif" font-size="11.2" fill="#3a3a3a" font-weight="bold" textLength="6.30" lengthAdjust="spacingAndGlyphs"  xml:space="preserve">0</text>
<text x="189.01" y="215.90" font-family="Liberation Serif, serif" font-size="11.2" fill="#3a3a3a" font-weight="bold" textLength="12.60" lengthAdjust="spacingAndGlyphs"  xml:space="preserve">20</text>
<text x="218.68" y="215.90" font-family="Liberation Serif, serif" font-size="11.2" fill="#3a3a3a" font-weight="bold" textLength="12.60" lengthAdjust="spacingAndGlyphs"  xml:space="preserve">40</text>
<text x="248.34" y="215.90" font-family="Liberation Serif, serif" font-size="11.2" fill="#3a3a3a" font-weight="bold" textLength="12.60" lengthAdjust="spacingAndGlyphs"  xml:space="preserve">60</text>
<text x="278.01" y="215.90" font-family="Liberation Serif, serif" font-size="11.2" fill="#3a3a3a" font-weight="bold" textLength="12.60" lengthAdjust="spacingAndGlyphs"  xml:space="preserve">80</text>
<text x="304.52" y="215.90" font-family="Liberation Serif, serif" font-size="11.2" fill="#3a3a3a" font-weight="bold" textLength="18.90" lengthAdjust="spacingAndGlyphs"  xml:space="preserve">100</text>
<text x="334.18" y="215.90" font-family="Liberation Serif, serif" font-size="11.2" fill="#3a3a3a" font-weight="bold" textLength="18.90" lengthAdjust="spacingAndGlyphs"  xml:space="preserve">120</text>
<text x="363.85" y="215.90" font-family="Liberation Serif, serif" font-size="11.2" fill="#3a3a3a" font-weight="bold" textLength="18.90" lengthAdjust="spacingAndGlyphs"  xml:space="preserve">140</text>
<text x="156.40" y="208.70" font-family="Liberation Serif, serif" font-size="11.2" fill="#3a3a3a" font-weight="bold" textLength="6.30" lengthAdjust="spacingAndGlyphs"  xml:space="preserve">2</text>
<path d="M148.2,205.50H155.2" stroke="#3a3a3a" stroke-width="0.9"/>
<text x="156.40" y="181.63" font-family="Liberation Serif, serif" font-size="11.2" fill="#3a3a3a" font-weight="bold" textLength="6.30" lengthAdjust="spacingAndGlyphs"  xml:space="preserve">0</text>
<text x="156.40" y="154.56" font-family="Liberation Serif, serif" font-size="11.2" fill="#3a3a3a" font-weight="bold" textLength="6.30" lengthAdjust="spacingAndGlyphs"  xml:space="preserve">2</text>
<text x="156.40" y="127.50" font-family="Liberation Serif, serif" font-size="11.2" fill="#3a3a3a" font-weight="bold" textLength="6.30" lengthAdjust="spacingAndGlyphs"  xml:space="preserve">4</text>
<text x="156.40" y="100.43" font-family="Liberation Serif, serif" font-size="11.2" fill="#3a3a3a" font-weight="bold" textLength="6.30" lengthAdjust="spacingAndGlyphs"  xml:space="preserve">6</text>
<text x="156.40" y="73.37" font-family="Liberation Serif, serif" font-size="11.2" fill="#3a3a3a" font-weight="bold" textLength="6.30" lengthAdjust="spacingAndGlyphs"  xml:space="preserve">8</text>
<text x="150.10" y="46.30" font-family="Liberation Serif, serif" font-size="11.2" fill="#3a3a3a" font-weight="bold" textLength="12.60" lengthAdjust="spacingAndGlyphs"  xml:space="preserve">10</text>
<text x="336.00" y="133.70" font-family="Liberation Serif, serif" font-size="10.9" fill="#3a3a3a" font-weight="bold" textLength="17.00" lengthAdjust="spacingAndGlyphs"  xml:space="preserve">full</text>
<text x="359.80" y="133.70" font-family="Liberation Serif, serif" font-size="10.9" fill="#3a3a3a" font-weight="bold" textLength="37.20" lengthAdjust="spacingAndGlyphs"  xml:space="preserve">NNLO</text>
<text x="336.00" y="148.20" font-family="Liberation Serif, serif" font-size="10.9" fill="#3a3a3a" font-weight="bold" textLength="42.80" lengthAdjust="spacingAndGlyphs"  xml:space="preserve">singular</text>
<text x="336.00" y="162.90" font-family="Liberation Serif, serif" font-size="10.9" fill="#3a3a3a" font-weight="bold" textLength="62.50" lengthAdjust="spacingAndGlyphs"  xml:space="preserve">nonsingular</text>
<text x="321.20" y="99.70" font-family="Liberation Serif, serif" font-size="11.8" fill="#3a3a3a" font-weight="bold" font-style="italic" textLength="9.60" lengthAdjust="spacingAndGlyphs"  xml:space="preserve">E</text>
<text x="330.20" y="101.00" font-family="Liberation Serif, serif" font-size="7.4" fill="#454545" font-weight="bold" textLength="10.40" lengthAdjust="spacingAndGlyphs"  xml:space="preserve">cm</text>
<path d="M343.3,95.10h8.5M343.3,98.10h8.5" stroke="#3a3a3a" stroke-width="0.9" fill="none"/>
<text x="353.60" y="99.80" font-family="Liberation Serif, serif" font-size="11.2" fill="#3a3a3a" font-weight="bold" textLength="6.30" lengthAdjust="spacingAndGlyphs"  xml:space="preserve">7</text>
<text x="361.80" y="99.70" font-family="Liberation Serif, serif" font-size="10.9" fill="#3a3a3a" font-weight="bold" textLength="23.30" lengthAdjust="spacingAndGlyphs"  xml:space="preserve">TeV</text>
<text x="321.20" y="113.90" font-family="Liberation Serif, serif" font-size="11.8" fill="#3a3a3a" font-weight="bold" font-style="italic" textLength="11.40" lengthAdjust="spacingAndGlyphs"  xml:space="preserve">m</text>
<text x="332.60" y="116.30" font-family="Liberation Serif, serif" font-size="7.4" fill="#454545" font-weight="bold" font-style="italic" textLength="8.60" lengthAdjust="spacingAndGlyphs"  xml:space="preserve">H</text>
<path d="M343.3,109.40h8.5M343.3,112.40h8.5" stroke="#3a3a3a" stroke-width="0.9" fill="none"/>
<text x="354.00" y="114.00" font-family="Liberation Serif, serif" font-size="11.2" fill="#3a3a3a" font-weight="bold" textLength="18.80" lengthAdjust="spacingAndGlyphs"  xml:space="preserve">165</text>
<text x="375.20" y="113.90" font-family="Liberation Serif, serif" font-size="10.9" fill="#3a3a3a" font-weight="bold" textLength="25.20" lengthAdjust="spacingAndGlyphs"  xml:space="preserve">GeV</text>
<g fill="none" stroke="#3a3a3a" stroke-linecap="round"><path d="M259.70,225.70C260.20,224.40 261.00,224.00 262.30,224.00L268.70,223.40" stroke-width="1.2"/><path d="M265.30,224.00C264.80,226.40 264.00,228.80 262.90,230.30" stroke-width="1.75" stroke-linecap="butt"/><path d="M261.00,230.60L264.40,230.60" stroke-width="0.9"/></g>
<text x="269.80" y="226.60" font-family="Liberation Serif, serif" font-size="7.4" fill="#454545" font-weight="bold" textLength="11.80" lengthAdjust="spacingAndGlyphs"  xml:space="preserve">cut</text>
<text x="266.90" y="234.70" font-family="Liberation Serif, serif" font-size="7.4" fill="#454545" font-weight="bold" textLength="10.20" lengthAdjust="spacingAndGlyphs"  xml:space="preserve">cm</text>
<path d="M289.30,222.20H287.80V233.50H289.30M315.50,222.20H317.00V233.50H315.50" fill="none" stroke="#3a3a3a" stroke-width="1.15"/>
<text x="290.30" y="230.50" font-family="Liberation Serif, serif" font-size="10.9" fill="#3a3a3a" font-weight="bold" textLength="24.40" lengthAdjust="spacingAndGlyphs"  xml:space="preserve">GeV</text>
<g transform="translate(145.5,155.4) rotate(-90)">
<text x="0.00" y="0.00" font-family="Liberation Serif, serif" font-size="11" fill="#3a3a3a" font-weight="bold" font-style="italic" textLength="7.00" lengthAdjust="spacingAndGlyphs"  xml:space="preserve">σ</text>
<path d="M11.30,-8.30Q7.10,-2.75 11.30,2.80Q9.10,-2.75 11.30,-8.30Z" fill="#3a3a3a" stroke="#3a3a3a" stroke-width="0.5" stroke-linejoin="round"/>
<g fill="none" stroke="#3a3a3a" stroke-linecap="round"><path d="M12.10,-5.30C12.60,-6.60 13.40,-7.00 14.70,-7.00L21.10,-7.60" stroke-width="1.2"/><path d="M17.70,-7.00C17.20,-4.60 16.40,-2.20 15.30,-0.70" stroke-width="1.75" stroke-linecap="butt"/><path d="M13.40,-0.40L16.80,-0.40" stroke-width="0.9"/></g>
<text x="22.20" y="-4.00" font-family="Liberation Serif, serif" font-size="7.4" fill="#454545" font-weight="bold" textLength="11.80" lengthAdjust="spacingAndGlyphs"  xml:space="preserve">cut</text>
<text x="19.30" y="4.10" font-family="Liberation Serif, serif" font-size="7.4" fill="#454545" font-weight="bold" textLength="10.20" lengthAdjust="spacingAndGlyphs"  xml:space="preserve">cm</text>
<path d="M34.40,-8.30Q38.60,-2.75 34.40,2.80Q36.60,-2.75 34.40,-8.30Z" fill="#3a3a3a" stroke="#3a3a3a" stroke-width="0.5" stroke-linejoin="round"/>
<path d="M45.80,-8.40H44.30V2.90H45.80M62.60,-8.40H64.10V2.90H62.60" fill="none" stroke="#3a3a3a" stroke-width="1.15"/>
<text x="46.90" y="-0.10" font-family="Liberation Serif, serif" font-size="10.9" fill="#3a3a3a" font-weight="bold" textLength="14.80" lengthAdjust="spacingAndGlyphs"  xml:space="preserve">pb</text>
</g>
</g>
</svg>
</body></html>
